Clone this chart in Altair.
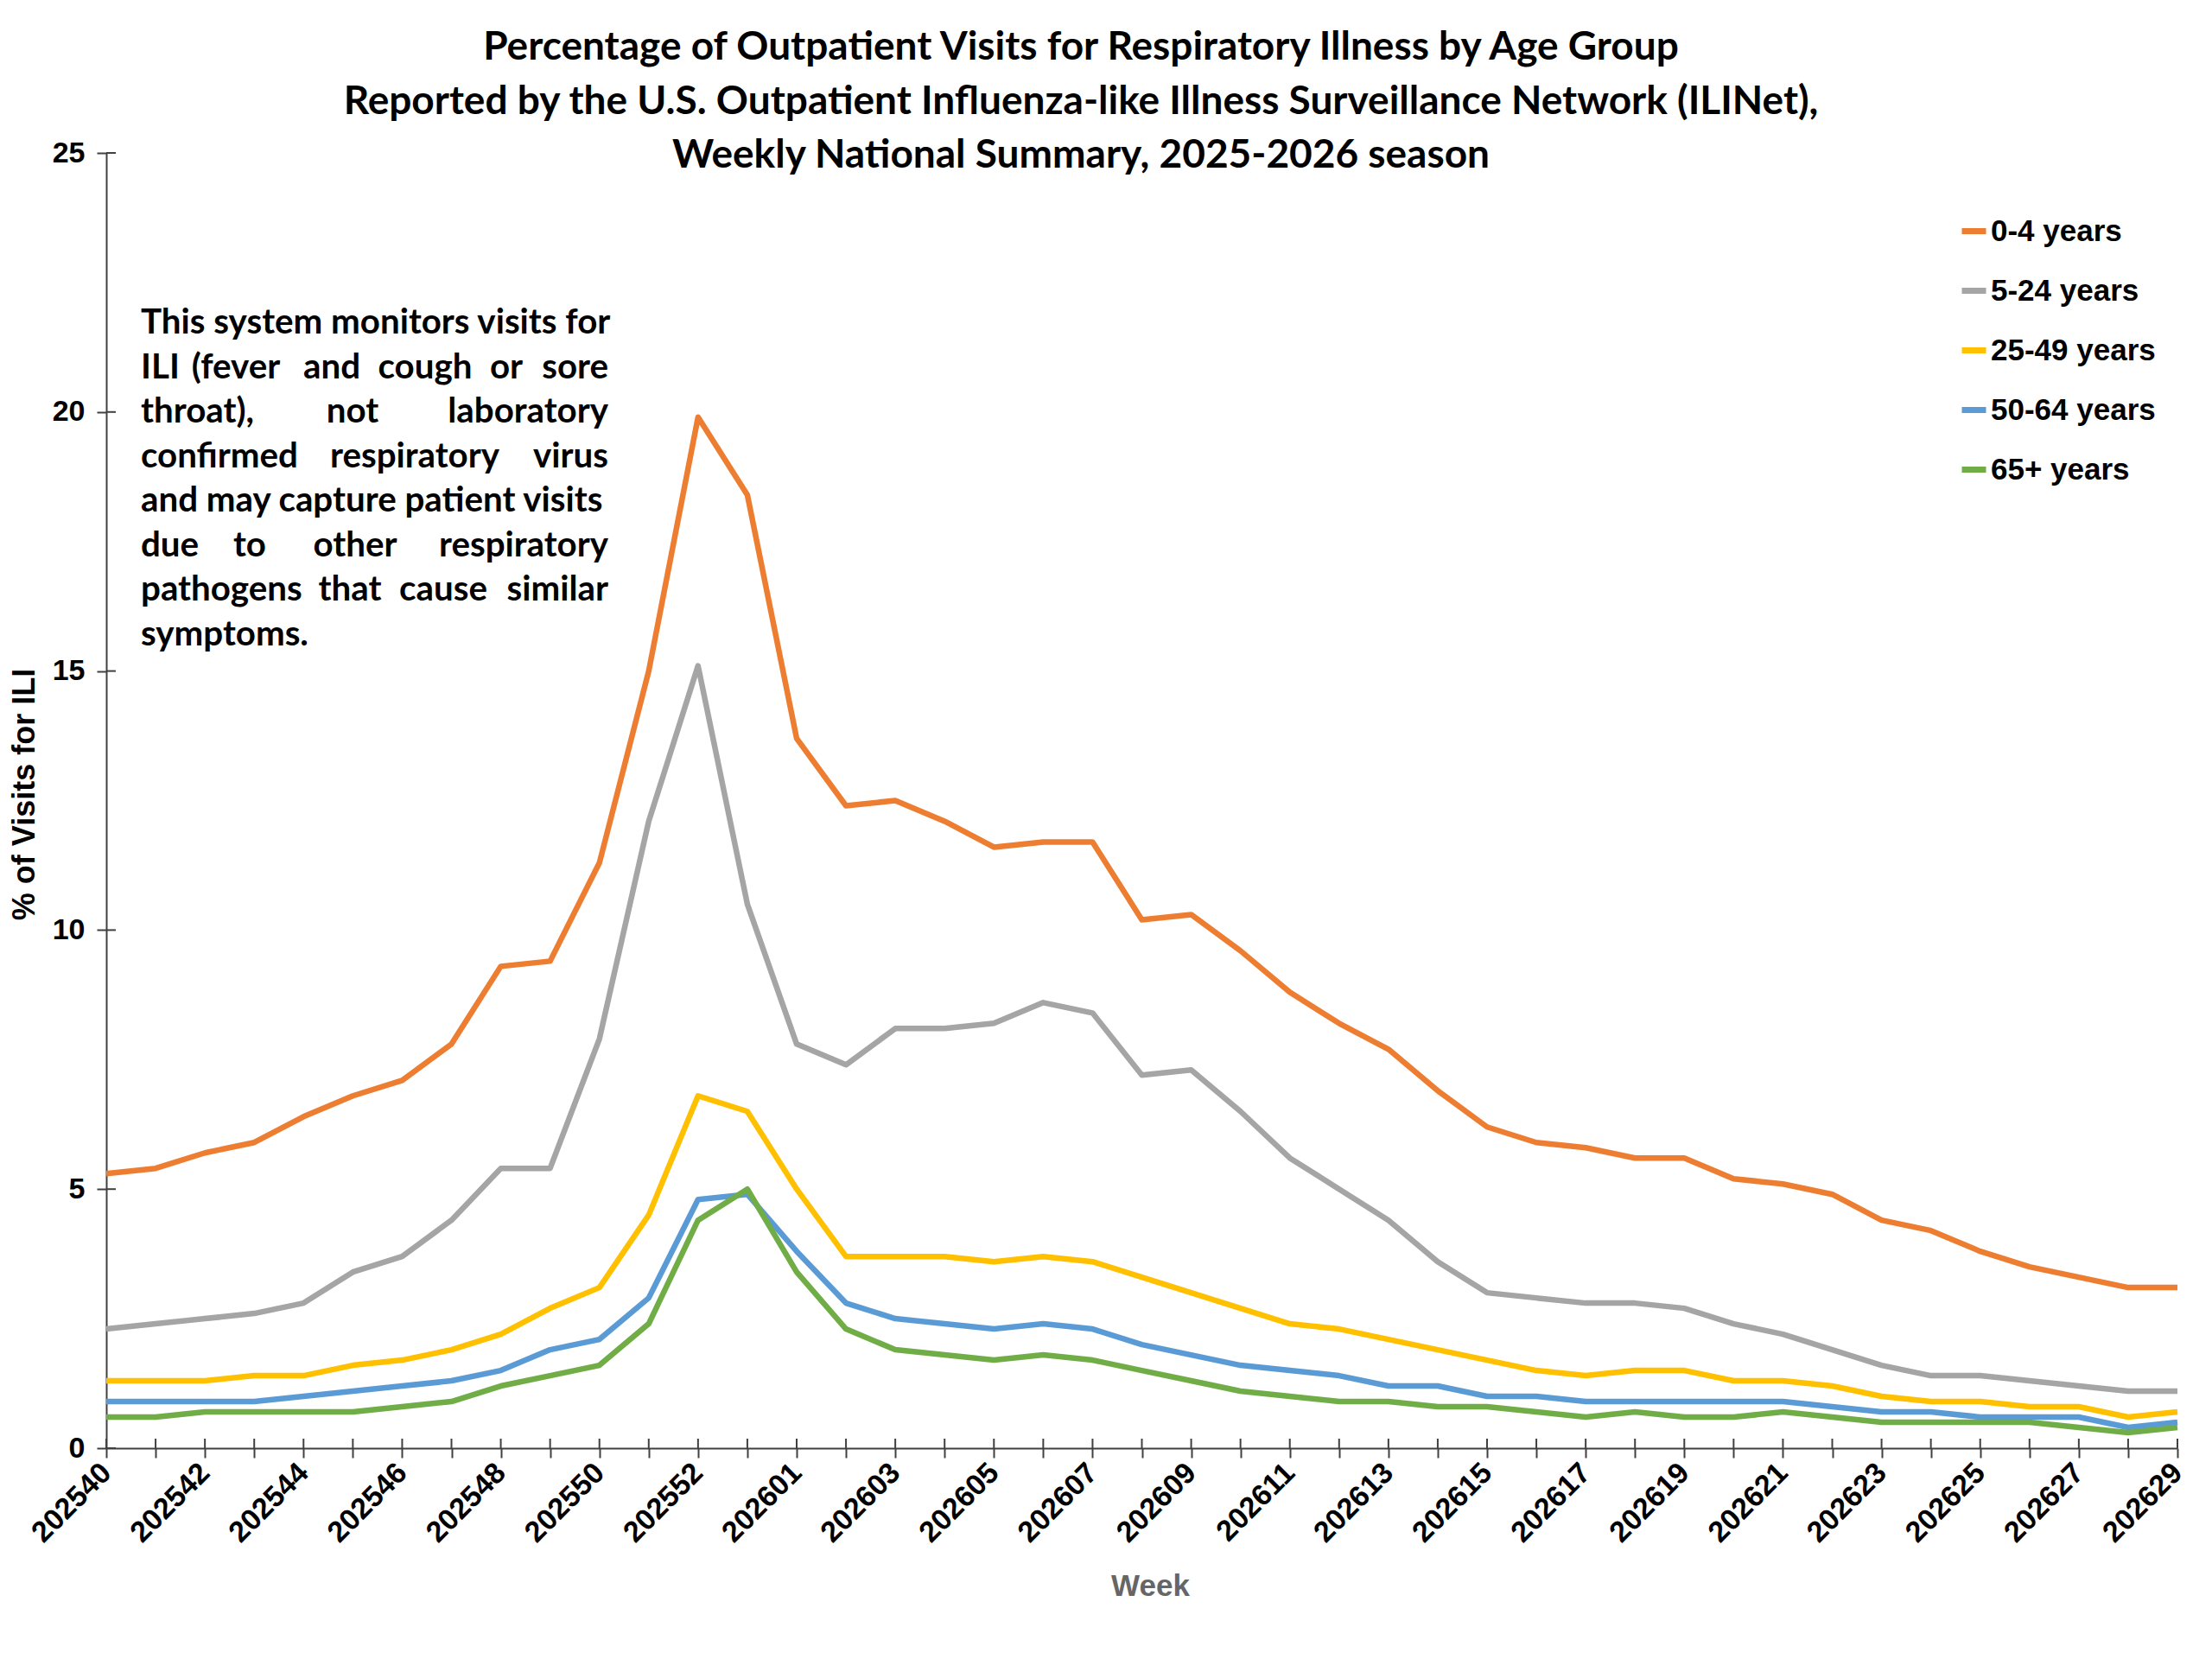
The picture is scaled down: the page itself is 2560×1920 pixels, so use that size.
import json
import altair as alt
import pandas as pd

weeks = [f"2025{w}" for w in range(40, 54)] + [f"2026{w:02d}" for w in range(1, 30)]

groups = ["0-4 years", "5-24 years", "25-49 years", "50-64 years", "65+ years"]
colors = ["#ED7D31", "#A5A5A5", "#FFC000", "#5B9BD5", "#70AD47"]

age_0_4 = [5.3, 5.4, 5.7, 5.9, 6.4, 6.8, 7.1, 7.8, 9.3, 9.4, 11.3, 15.0, 19.9, 18.4,
           13.7, 12.4, 12.5, 12.1, 11.6, 11.7, 11.7, 10.2, 10.3, 9.6, 8.8, 8.2, 7.7, 6.9,
           6.2, 5.9, 5.8, 5.6, 5.6, 5.2, 5.1, 4.9, 4.4, 4.2, 3.8, 3.5, 3.3, 3.1, 3.1]
age_5_24 = [2.3, 2.4, 2.5, 2.6, 2.8, 3.4, 3.7, 4.4, 5.4, 5.4, 7.9, 12.1, 15.1, 10.5,
            7.8, 7.4, 8.1, 8.1, 8.2, 8.6, 8.4, 7.2, 7.3, 6.5, 5.6, 5.0, 4.4, 3.6,
            3.0, 2.9, 2.8, 2.8, 2.7, 2.4, 2.2, 1.9, 1.6, 1.4, 1.4, 1.3, 1.2, 1.1, 1.1]
age_25_49 = [1.3, 1.3, 1.3, 1.4, 1.4, 1.6, 1.7, 1.9, 2.2, 2.7, 3.1, 4.5, 6.8, 6.5,
             5.0, 3.7, 3.7, 3.7, 3.6, 3.7, 3.6, 3.3, 3.0, 2.7, 2.4, 2.3, 2.1, 1.9,
             1.7, 1.5, 1.4, 1.5, 1.5, 1.3, 1.3, 1.2, 1.0, 0.9, 0.9, 0.8, 0.8, 0.6, 0.7]
age_50_64 = [0.9, 0.9, 0.9, 0.9, 1.0, 1.1, 1.2, 1.3, 1.5, 1.9, 2.1, 2.9, 4.8, 4.9,
             3.8, 2.8, 2.5, 2.4, 2.3, 2.4, 2.3, 2.0, 1.8, 1.6, 1.5, 1.4, 1.2, 1.2,
             1.0, 1.0, 0.9, 0.9, 0.9, 0.9, 0.9, 0.8, 0.7, 0.7, 0.6, 0.6, 0.6, 0.4, 0.5]
age_65 = [0.6, 0.6, 0.7, 0.7, 0.7, 0.7, 0.8, 0.9, 1.2, 1.4, 1.6, 2.4, 4.4, 5.0,
          3.4, 2.3, 1.9, 1.8, 1.7, 1.8, 1.7, 1.5, 1.3, 1.1, 1.0, 0.9, 0.9, 0.8,
          0.8, 0.7, 0.6, 0.7, 0.6, 0.6, 0.7, 0.6, 0.5, 0.5, 0.5, 0.5, 0.4, 0.3, 0.4]

series = [age_0_4, age_5_24, age_25_49, age_50_64, age_65]
y_ticks = [0, 5, 10, 15, 20, 25]

title_lines = [
    "Percentage of Outpatient Visits for Respiratory Illness by Age Group",
    "Reported by the U.S. Outpatient Influenza-like Illness Surveillance Network (ILINet),",
    "Weekly National Summary, 2025-2026 season",
]

# annotation text, laid out as justified lines: (line index, word)
note_left = [(0, "This system monitors visits for"), (1, "ILI"), (2, "throat),"),
             (3, "confirmed"), (4, "and may capture patient visits"), (5, "due"),
             (6, "pathogens"), (7, "symptoms.")]
note_right = [(1, "sore"), (2, "laboratory"), (3, "virus"), (5, "respiratory"), (6, "similar")]
note_center = [(1, "(fever", 150), (1, "and", 261), (1, "cough", 369), (1, "or", 463),
               (2, "not", 285), (3, "respiratory", 357), (5, "to", 166), (5, "other", 288),
               (6, "that", 282), (6, "cause", 390)]

rows = []
for g, vals in zip(groups, series):
    for w, v in zip(weeks, vals):
        rows.append({"week": w, "group": g, "value": v})
df = pd.DataFrame(rows)

AX_FONT = "Liberation Sans"
TXT_FONT = "Lato"
AX_COLOR = "#404040"
W, H = 2397, 1499
NOTE_X0, NOTE_X1, NOTE_Y0, NOTE_DY = 40, 581, 197, 51.5
NOTE_SIZE = 40.3
TICK = 11

label_expr = "indexof(" + json.dumps(weeks) + ", datum.value) % 2 == 0 ? datum.label : ''"
x_scale = alt.Scale(type="point", padding=0)
y_scale = alt.Scale(domain=[0, 25], nice=False)

x_axis = alt.Axis(title="Week", labelExpr=label_expr, labelAngle=-45,
                  labelAlign="right", labelBaseline="middle",
                  labelFont=AX_FONT, labelFontWeight="bold", labelFontSize=34,
                  labelColor="black", labelPadding=12, tickSize=TICK,
                  tickColor=AX_COLOR, domainColor=AX_COLOR, tickWidth=2, domainWidth=2,
                  titleFont=AX_FONT, titleFontWeight="bold", titleFontSize=35,
                  titleColor="#666666", titleX=1208, titleY=159,
                  titleBaseline="middle", grid=False)
y_axis = alt.Axis(title="% of Visits for ILI", values=y_ticks,
                  labelFont=AX_FONT, labelFontWeight="bold", labelFontSize=34,
                  labelColor="black", labelPadding=14, tickSize=TICK,
                  tickColor=AX_COLOR, domainColor=AX_COLOR, tickWidth=2, domainWidth=2,
                  titleFont=AX_FONT, titleFontWeight="bold", titleFontSize=36,
                  titleColor="black", titleX=-95, titleY=742, titleAngle=-90,
                  titleBaseline="middle", titleAlign="center", grid=False)

lines = alt.Chart(df).mark_line(strokeWidth=6.5, strokeJoin="round", strokeCap="butt").encode(
    x=alt.X("week:O", sort=weeks, scale=x_scale, axis=x_axis),
    y=alt.Y("value:Q", scale=y_scale, axis=y_axis),
    color=alt.Color("group:N", sort=groups,
                    scale=alt.Scale(domain=groups, range=colors),
                    legend=alt.Legend(title=None, orient="none", legendX=2144, legendY=73,
                                      symbolType="stroke", symbolSize=784, symbolStrokeWidth=7,
                                      labelFont=AX_FONT, labelFontWeight="bold", labelFontSize=35,
                                      labelColor="black", labelOffset=2, rowPadding=33,
                                      labelLimit=400)),
)

# inner halves of the crossing tick marks
x_inner = alt.Chart(pd.DataFrame({"week": weeks})).mark_rule(
    color=AX_COLOR, strokeWidth=2
).encode(x=alt.X("week:O", sort=weeks, scale=x_scale, axis=x_axis),
         y=alt.value(H), y2=alt.value(H - TICK))
y_inner = alt.Chart(pd.DataFrame({"value": y_ticks})).mark_rule(
    color=AX_COLOR, strokeWidth=2
).encode(y=alt.Y("value:Q", scale=y_scale, axis=y_axis),
         x=alt.value(0), x2=alt.value(TICK))

title_df = pd.DataFrame({"text": title_lines, "px": [1128, 1128, 1128], "py": [-122, -59, 3]})
title_layer = alt.Chart(title_df).mark_text(
    font=TXT_FONT, fontWeight="bold", fontSize=46, align="center", baseline="middle", color="black"
).encode(x=alt.X("px:Q", scale=None), y=alt.Y("py:Q", scale=None), text="text:N")

nl = pd.DataFrame({"text": [t for _, t in note_left],
                   "px": [NOTE_X0] * len(note_left),
                   "py": [NOTE_Y0 + NOTE_DY * i for i, _ in note_left]})
nr = pd.DataFrame({"text": [t for _, t in note_right],
                   "px": [NOTE_X1] * len(note_right),
                   "py": [NOTE_Y0 + NOTE_DY * i for i, _ in note_right]})
nc = pd.DataFrame({"text": [t for _, t, _ in note_center],
                   "px": [x for _, _, x in note_center],
                   "py": [NOTE_Y0 + NOTE_DY * i for i, _, _ in note_center]})


def note_layer(d, align):
    return alt.Chart(d).mark_text(
        font=TXT_FONT, fontWeight="bold", fontSize=NOTE_SIZE, align=align, baseline="middle",
        color="black"
    ).encode(x=alt.X("px:Q", scale=None), y=alt.Y("py:Q", scale=None), text="text:N")


chart = alt.layer(
    lines, x_inner, y_inner, title_layer,
    note_layer(nl, "left"), note_layer(nr, "right"), note_layer(nc, "center")
).properties(
    width=W, height=H,
    autosize=alt.AutoSizeParams(type="none"),
    padding={"left": 115, "top": 169, "right": 20, "bottom": 228},
    background="white",
).configure_view(stroke=None)

chart.save("out.html", embed_options={"renderer": "svg", "actions": False})
